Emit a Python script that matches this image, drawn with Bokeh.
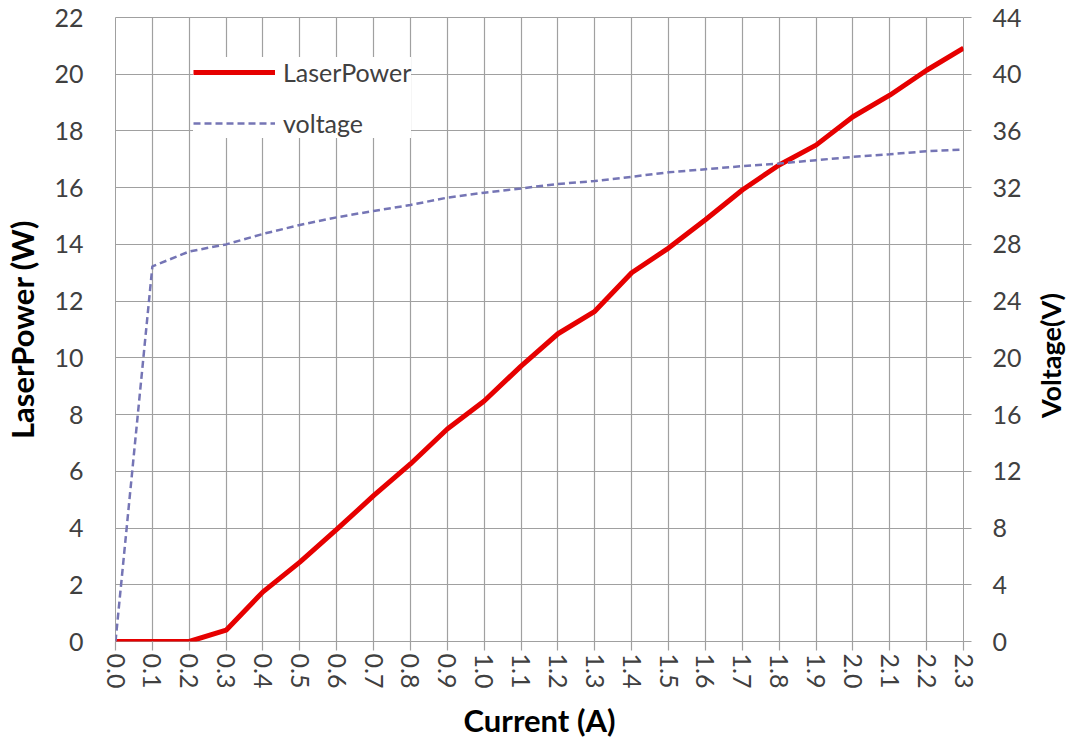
import math
from bokeh.plotting import figure
from bokeh.layouts import row
from bokeh.models import (LinearAxis, Range1d, FixedTicker, Div,
                          Legend, LegendItem, PrintfTickFormatter)
from bokeh.embed import file_html
from bokeh.resources import INLINE

current = [0.0, 0.1, 0.2, 0.3, 0.4, 0.5, 0.6, 0.7, 0.8, 0.9, 1.0, 1.1,
           1.2, 1.3, 1.4, 1.5, 1.6, 1.7, 1.8, 1.9, 2.0, 2.1, 2.2, 2.3]
laser_power = [0.0, 0.0, 0.0, 0.4, 1.75, 2.8, 3.95, 5.14, 6.26, 7.49, 8.48, 9.71,
               10.85, 11.64, 13.0, 13.87, 14.87, 15.92, 16.8, 17.5, 18.5, 19.26, 20.14, 20.92]
voltage = [0.0, 26.45, 27.5, 28.0, 28.74, 29.37, 29.91, 30.36, 30.78, 31.3, 31.65, 31.95,
           32.26, 32.47, 32.77, 33.08, 33.3, 33.52, 33.7, 33.94, 34.17, 34.36, 34.57, 34.69]

x_ticks = [round(i * 0.1, 1) for i in range(24)]
left_ticks = list(range(0, 23, 2))
right_ticks = list(range(0, 45, 4))
right_title = "Voltage(V)"

FONT = "Lato"
GRID = "#a0a0a0"
TXT = "#404040"

p = figure(width=1040, height=742, output_backend="svg", toolbar_location=None,
           x_range=Range1d(0, 2.3), y_range=Range1d(0, 22),
           min_border_left=115, min_border_right=77, min_border_top=17, min_border_bottom=99)
p.extra_y_ranges = {"v": Range1d(0, 44)}

p.outline_line_color = GRID
p.outline_line_width = 1
p.background_fill_color = "white"

p.xgrid.ticker = FixedTicker(ticks=x_ticks)
p.ygrid.ticker = FixedTicker(ticks=left_ticks)
for g in (p.xgrid[0], p.ygrid[0]):
    g.grid_line_color = GRID
    g.grid_line_width = 1.2

xa = p.xaxis[0]
xa.ticker = FixedTicker(ticks=x_ticks)
xa.formatter = PrintfTickFormatter(format="%.1f")
xa.major_label_orientation = -math.pi / 2
xa.axis_label = "Current (A)"

ya = p.yaxis[0]
ya.ticker = FixedTicker(ticks=left_ticks)
ya.axis_label = "LaserPower (W)"

ra = LinearAxis(y_range_name="v", ticker=FixedTicker(ticks=right_ticks))
p.add_layout(ra, "right")

for ax in (xa, ya, ra):
    ax.axis_line_color = None
    ax.major_tick_line_color = None
    ax.minor_tick_line_color = None
    ax.major_label_text_font = FONT
    ax.major_label_text_font_size = "25px"
    ax.major_label_text_color = TXT
    ax.axis_label_text_font = FONT
    ax.axis_label_text_font_style = "bold"
    ax.axis_label_text_color = "#000000"

xa.axis_label_text_font_size = "31px"
ya.axis_label_text_font_size = "31px"

ra.major_tick_line_color = GRID
ra.major_tick_line_width = 1.2
ra.major_tick_out = 8
ra.major_tick_in = 0
ra.major_label_standoff = 21

xa.major_tick_line_color = GRID
xa.major_tick_line_width = 1.2
xa.major_tick_out = 9
xa.major_tick_in = 0
xa.major_label_standoff = 3
xa.axis_label_standoff = 10

ya.major_label_standoff = 26
ya.axis_label_standoff = 10

r1 = p.line(current, laser_power, line_color="#e60000", line_width=5)
r2 = p.line(current, voltage, y_range_name="v", line_color="#7575b5", line_width=2.5,
            line_dash="7 4")

legend = Legend(items=[LegendItem(label="LaserPower", renderers=[r1]),
                       LegendItem(label="voltage", renderers=[r2])],
                location=(78, 503), padding=16, margin=0, spacing=21,
                glyph_width=82, glyph_height=26, label_height=26,
                label_standoff=8, label_width=110,
                label_text_font=FONT, label_text_font_size="25px",
                label_text_color=TXT,
                border_line_color=None, background_fill_color="white",
                background_fill_alpha=1.0)
p.add_layout(legend, "center")

# right-hand axis title, reading bottom to top
vtitle = Div(text=('<div style="margin-top:288px; margin-left:-9px; writing-mode:vertical-rl; '
                   'transform:rotate(180deg); font-family:Lato; font-weight:bold; '
                   'font-size:27px; line-height:30px; color:#000000; '
                   'white-space:nowrap;">' + right_title + '</div>'),
             width=34, height=742)

layout = row(p, vtitle, spacing=0)
open("out.html", "w").write(file_html(layout, INLINE))
